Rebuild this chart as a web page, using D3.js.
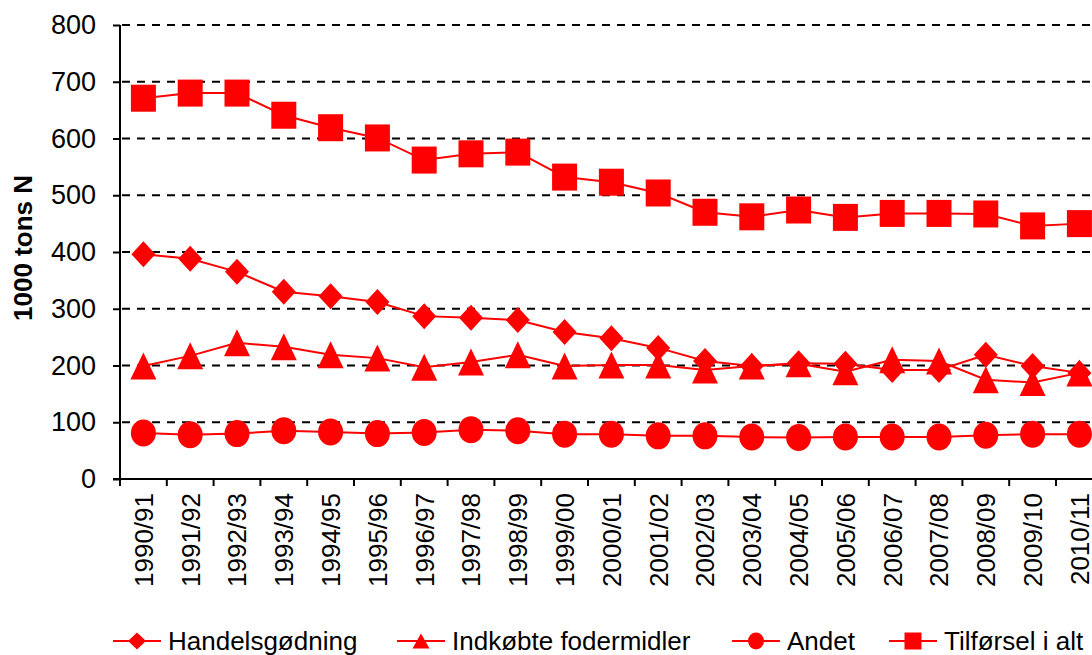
<!DOCTYPE html>
<html>
<head>
<meta charset="utf-8">
<script src="https://cdn.jsdelivr.net/npm/d3@7"></script>
<style>
  body { margin: 0; background: #fff; }
  svg { display: block; font-family: "Liberation Sans", Arial, sans-serif; }
</style>
</head>
<body>
<div id="chart"></div>
<script>
'use strict';

// chart data
var seasons = ["1990/91", "1991/92", "1992/93", "1993/94", "1994/95", "1995/96", "1996/97",
  "1997/98", "1998/99", "1999/00", "2000/01", "2001/02", "2002/03", "2003/04", "2004/05",
  "2005/06", "2006/07", "2007/08", "2008/09", "2009/10", "2010/11"];
var handelsgodning = [396, 388, 365, 330, 322, 312, 287, 284, 280, 259, 248, 231, 208, 199, 204, 203, 192, 192, 219, 199, 187];
var fodermidler = [199, 217, 240, 233, 219, 213, 197, 206, 219, 199, 201, 201, 192, 199, 203, 189, 210, 208, 175, 170, 187];
var andet = [81, 78, 80, 85, 83, 80, 82, 87, 85, 79, 79, 76, 76, 74, 73, 74, 74, 74, 77, 79, 79];
var tilforsel = [671, 680, 680, 641, 619, 601, 562, 573, 576, 532, 523, 504, 470, 462, 474, 461, 468, 468, 467, 446, 450];
var yTicks = [0, 100, 200, 300, 400, 500, 600, 700, 800];

var series = [
  { name: "Handelsgødning", values: handelsgodning, marker: "diamond" },
  { name: "Indkøbte fodermidler", values: fodermidler, marker: "triangle" },
  { name: "Andet", values: andet, marker: "circle" },
  { name: "Tilførsel i alt", values: tilforsel, marker: "square" }
];

var width = 1092, height = 655;
var plotLeft = 120, plotTop = 25, plotBottom = 479;
var step = 46.8;
var red = "#ff0000";
var font = '"Liberation Sans", Arial, sans-serif';

// marker outline, w and h are the full width and height
function markerPath(type, w, h) {
  var p = d3.path(), a = w / 2, b = h / 2;
  if (type == "diamond") {
    p.moveTo(0, -b); p.lineTo(a, 0); p.lineTo(0, b); p.lineTo(-a, 0); p.closePath();
  } else if (type == "triangle") {
    p.moveTo(0, -b); p.lineTo(a, b); p.lineTo(-a, b); p.closePath();
  } else if (type == "square") {
    p.rect(-a, -b, w, h);
  } else {
    return "M" + (-a) + ",0A" + a + "," + b + " 0 1,0 " + a + ",0A" + a + "," + b + " 0 1,0 " + (-a) + ",0Z";
  }
  return p.toString();
}
var markerSize = { diamond: [24, 26], triangle: [26, 27], circle: [25, 27], square: [25, 27] };
var legendMarkerSize = { diamond: [18, 17], triangle: [17, 15], circle: [16, 17], square: [17, 17] };

var svg = d3.select('#chart').append('svg')
  .attr('width', width)
  .attr('height', height);

var x = d3.scaleBand().domain(seasons).range([plotLeft, plotLeft + step * seasons.length]);
var y = d3.scaleLinear().domain([0, 800]).range([plotBottom, plotTop]);

// gridlines
svg.append('g').selectAll('line')
  .data(yTicks.filter(function(d) { return d > 0; }))
  .enter().append('line')
  .attr('x1', plotLeft + 2).attr('x2', 1090)
  .attr('y1', function(d) { return y(d); })
  .attr('y2', function(d) { return y(d); })
  .attr('stroke', '#000')
  .attr('stroke-width', 1.8)
  .attr('stroke-dasharray', '8,7');

// y axis
var yAxis = svg.append('g')
  .attr('transform', 'translate(' + plotLeft + ',0)')
  .call(d3.axisLeft(y).tickValues(yTicks).tickSize(7).tickPadding(17));
yAxis.select('.domain').attr('stroke-width', 2).attr('d', 'M0,' + plotTop + 'V' + plotBottom);
yAxis.selectAll('.tick line').attr('stroke-width', 2);
yAxis.selectAll('text').attr('font-size', 27).attr('fill', '#000')
  .attr('font-family', font);

// x axis with ticks between categories
var xg = svg.append('g');
xg.append('line')
  .attr('x1', plotLeft - 7).attr('x2', width)
  .attr('y1', plotBottom).attr('y2', plotBottom)
  .attr('stroke', '#000').attr('stroke-width', 2);
xg.selectAll('.xt')
  .data(seasons)
  .enter().append('line')
  .attr('class', 'xt')
  .attr('x1', function(d) { return x(d); })
  .attr('x2', function(d) { return x(d); })
  .attr('y1', plotBottom).attr('y2', plotBottom + 7)
  .attr('stroke', '#000').attr('stroke-width', 2);
xg.selectAll('text')
  .data(seasons)
  .enter().append('text')
  .attr('transform', function(d) {
    return 'translate(' + (x(d) + x.bandwidth() / 2) + ',' + 493 + ') rotate(-90)';
  })
  .attr('text-anchor', 'end')
  .attr('dy', '0.36em')
  .attr('font-size', 26)
  .text(function(d) { return d; });

// y axis title
svg.append('text')
  .attr('transform', 'translate(23,' + 248 + ') rotate(-90)')
  .attr('text-anchor', 'middle')
  .attr('dy', '0.36em')
  .attr('font-size', 26)
  .attr('font-weight', 'bold')
  .text('1000 tons N');

// series lines and markers
var line = d3.line()
  .x(function(d, i) { return x(seasons[i]) + x.bandwidth() / 2; })
  .y(function(d) { return y(d); });

series.forEach(function(s) {
  svg.append('path')
    .attr('d', line(s.values))
    .attr('fill', 'none')
    .attr('stroke', red)
    .attr('stroke-width', 2);
});

series.forEach(function(s) {
  var sz = markerSize[s.marker];
  svg.append('g').selectAll('path')
    .data(s.values)
    .enter().append('path')
    .attr('transform', function(d, i) {
      return 'translate(' + (x(seasons[i]) + x.bandwidth() / 2) + ',' + y(d) + ')';
    })
    .attr('d', markerPath(s.marker, sz[0], sz[1]))
    .attr('fill', red);
});

// legend
var legendX = [113, 397, 732, 889];
var legendY = 641;
var lg = svg.append('g').selectAll('g')
  .data(series)
  .enter().append('g')
  .attr('transform', function(d, i) { return 'translate(' + legendX[i] + ',' + legendY + ')'; });
lg.append('line')
  .attr('x1', 0).attr('x2', 48)
  .attr('stroke', red).attr('stroke-width', 2);
lg.append('path')
  .attr('transform', 'translate(24,0)')
  .attr('d', function(d) {
    var sz = legendMarkerSize[d.marker];
    return markerPath(d.marker, sz[0], sz[1]);
  })
  .attr('fill', red);
lg.append('text')
  .attr('x', 55)
  .attr('dy', '0.36em')
  .attr('font-size', 26)
  .text(function(d) { return d.name; });
</script>
</body>
</html>
